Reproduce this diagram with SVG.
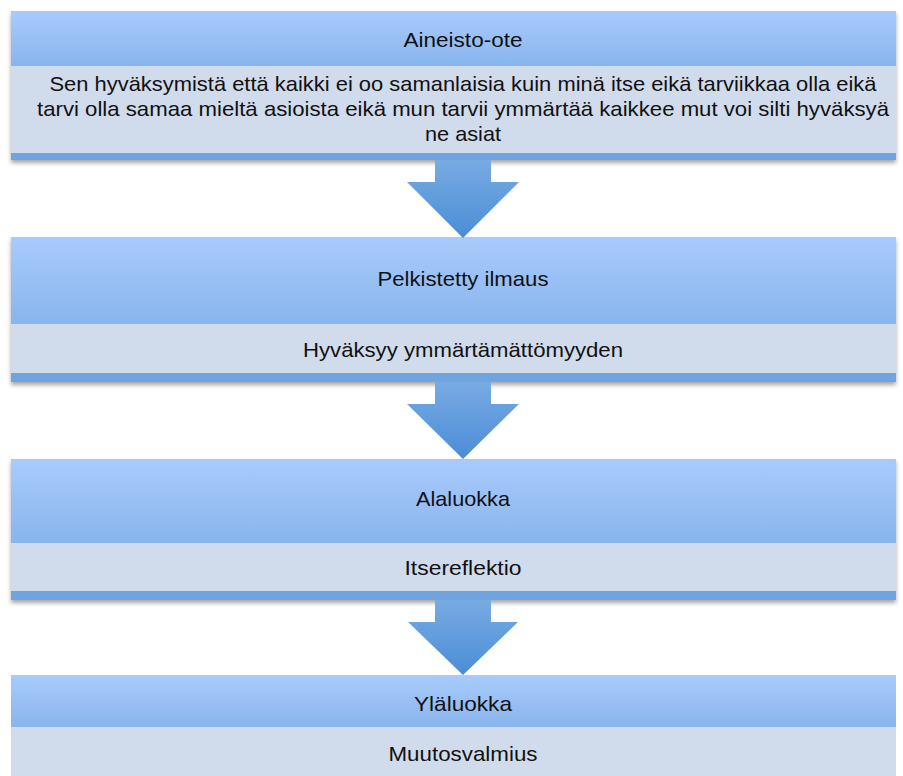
<svg xmlns="http://www.w3.org/2000/svg" width="903" height="776" viewBox="0 0 903 776">
  <defs>
    <linearGradient id="hdr" x1="0" y1="0" x2="0" y2="1">
      <stop offset="0" stop-color="#a9cbfc"/>
      <stop offset="1" stop-color="#88b5ed"/>
    </linearGradient>
    <linearGradient id="arr" x1="0" y1="0" x2="0" y2="1">
      <stop offset="0" stop-color="#78abe3"/>
      <stop offset="1" stop-color="#4a8dd6"/>
    </linearGradient>
    <filter id="sh" x="-5%" y="-10%" width="110%" height="130%">
      <feDropShadow dx="0" dy="3" stdDeviation="2" flood-color="#000" flood-opacity="0.35"/>
    </filter>
    <style>
      .hdr { fill: url(#hdr); }
      .body { fill: #d0dbeb; }
      .band { fill: #6fa4df; }
      .base { fill: #d0dbeb; filter: url(#sh); }
      .arrow { fill: url(#arr); }
      text { font-family: "Liberation Sans", Arial, sans-serif; font-size: 21px; fill: #111; text-anchor: middle; }
    </style>
  </defs>
  <rect width="903" height="776" fill="#ffffff"/>

  <g id="node-aineisto">
    <rect class="base" x="11" y="11" width="885" height="149"/>
    <rect class="hdr" x="11" y="11" width="885" height="55"/>
    <rect class="body" x="11" y="66" width="885" height="87"/>
    <rect class="band" x="11" y="153" width="885" height="7"/>
    <text x="463" y="47" textLength="119" lengthAdjust="spacingAndGlyphs">Aineisto-ote</text>
    <text x="463" y="91" textLength="827" lengthAdjust="spacingAndGlyphs">Sen hyväksymistä että kaikki ei oo samanlaisia kuin minä itse eikä tarviikkaa olla eikä</text>
    <text x="463" y="116" textLength="852" lengthAdjust="spacingAndGlyphs">tarvi olla samaa mieltä asioista eikä mun tarvii ymmärtää kaikkee mut voi silti hyväksyä</text>
    <text x="463" y="141" textLength="76" lengthAdjust="spacingAndGlyphs">ne asiat</text>
  </g>

  <g id="node-pelkistetty">
    <rect class="base" x="11" y="237" width="885" height="145"/>
    <rect class="hdr" x="11" y="237" width="885" height="87"/>
    <rect class="body" x="11" y="324" width="885" height="49"/>
    <rect class="band" x="11" y="373" width="885" height="9"/>
    <text x="463" y="286" textLength="171" lengthAdjust="spacingAndGlyphs">Pelkistetty ilmaus</text>
    <text x="463" y="357" textLength="320" lengthAdjust="spacingAndGlyphs">Hyväksyy ymmärtämättömyyden</text>
  </g>

  <g id="node-alaluokka">
    <rect class="base" x="11" y="459" width="885" height="141"/>
    <rect class="hdr" x="11" y="459" width="885" height="84"/>
    <rect class="body" x="11" y="543" width="885" height="48"/>
    <rect class="band" x="11" y="591" width="885" height="9"/>
    <text x="463" y="506" textLength="94" lengthAdjust="spacingAndGlyphs">Alaluokka</text>
    <text x="463" y="575" textLength="117" lengthAdjust="spacingAndGlyphs">Itsereflektio</text>
  </g>

  <g id="node-ylaluokka">
    <rect class="hdr" x="11" y="675" width="885" height="52"/>
    <rect class="body" x="11" y="727" width="885" height="52"/>
    <text x="463" y="711" textLength="98" lengthAdjust="spacingAndGlyphs">Yläluokka</text>
    <text x="463" y="761" textLength="149" lengthAdjust="spacingAndGlyphs">Muutosvalmius</text>
  </g>

  <g id="connectors">
    <polygon class="arrow" points="435,160 491,160 491,182 519,182 463,238 407,182 435,182"/>
    <polygon class="arrow" points="435,382 491,382 491,404 519,404 463,459 407,404 435,404"/>
    <polygon class="arrow" points="435,600 491,600 491,622 518,622 463,675 408,622 435,622"/>
  </g>
</svg>
